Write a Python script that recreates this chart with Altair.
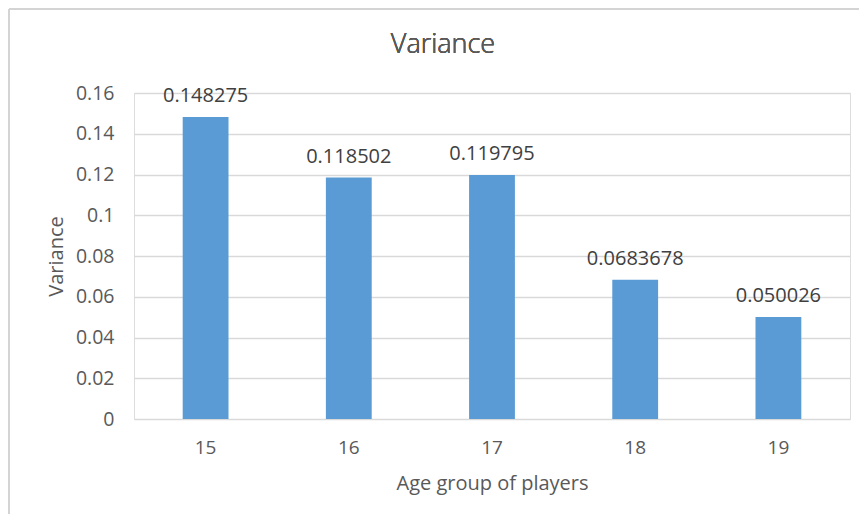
import altair as alt
import pandas as pd

ages = ["15", "16", "17", "18", "19"]
variances = [0.148275, 0.118502, 0.119795, 0.0683678, 0.050026]
labels = ["0.148275", "0.118502", "0.119795", "0.0683678", "0.050026"]
y_ticks = [0, 0.02, 0.04, 0.06, 0.08, 0.1, 0.12, 0.14, 0.16]
chart_title = "Variance"

df = pd.DataFrame({"age": ages, "variance": variances, "label": labels})

FONT = "Open Sans"
W, H = 716, 326
PL, PT, PR, PB = 126, 85, 9, 95

x_enc = alt.X(
    "age:N",
    sort=ages,
    scale=alt.Scale(paddingInner=0.68, paddingOuter=0.34),
    axis=alt.Axis(
        title="Age group of players",
        labelAngle=0,
        labelFontSize=19,
        labelColor="#595959",
        labelPadding=19,
        titleFontSize=20,
        titleFontWeight="normal",
        titleColor="#595959",
        titlePadding=16,
        domain=False,
        ticks=False,
        labelFont=FONT,
        titleFont=FONT,
    ),
)
y_enc = alt.Y(
    "variance:Q",
    scale=alt.Scale(domain=[0, 0.16], nice=False),
    axis=alt.Axis(
        title="Variance",
        values=y_ticks,
        format="~g",
        labelFontSize=19.5,
        labelColor="#595959",
        labelPadding=20,
        titleFontSize=20,
        titleFontWeight="normal",
        titleColor="#595959",
        titlePadding=9,
        domain=False,
        ticks=False,
        grid=True,
        gridColor="#D9D9D9",
        gridWidth=1.5,
        labelFont=FONT,
        titleFont=FONT,
    ),
)

base = alt.Chart(df)
bars = base.mark_bar(color="#5B9BD5").encode(x=x_enc, y=y_enc)
text = base.mark_text(
    baseline="middle", dy=-21, fontSize=20, color="#404040", font=FONT
).encode(x=alt.X("age:N", sort=ages), y="variance:Q", text="label:N")

title_mark = alt.Chart(df).mark_text(
    fontSize=27, font=FONT, fontWeight=300, color="#595959",
    baseline="middle", align="center"
).encode(x=alt.value(309), y=alt.value(-48), text=alt.value(chart_title))

frame_top = alt.Chart(df).mark_rule(color="#D4D4D4", strokeWidth=2).encode(
    x=alt.value(-125), x2=alt.value(W + PR), y=alt.value(-84)
)
frame_left = alt.Chart(df).mark_rule(color="#D4D4D4", strokeWidth=2).encode(
    x=alt.value(-125), y=alt.value(-84), y2=alt.value(H + PB)
)

chart = (
    alt.layer(frame_top, frame_left, title_mark, bars, text)
    .properties(
        width=W,
        height=H,
        padding={"left": PL, "top": PT, "right": PR, "bottom": PB},
        autosize=alt.AutoSizeParams(type="none"),
    )
    .configure_view(stroke=None)
    .configure(background="white")
)

chart.save("out.html", embed_options={"renderer": "svg", "actions": False})
